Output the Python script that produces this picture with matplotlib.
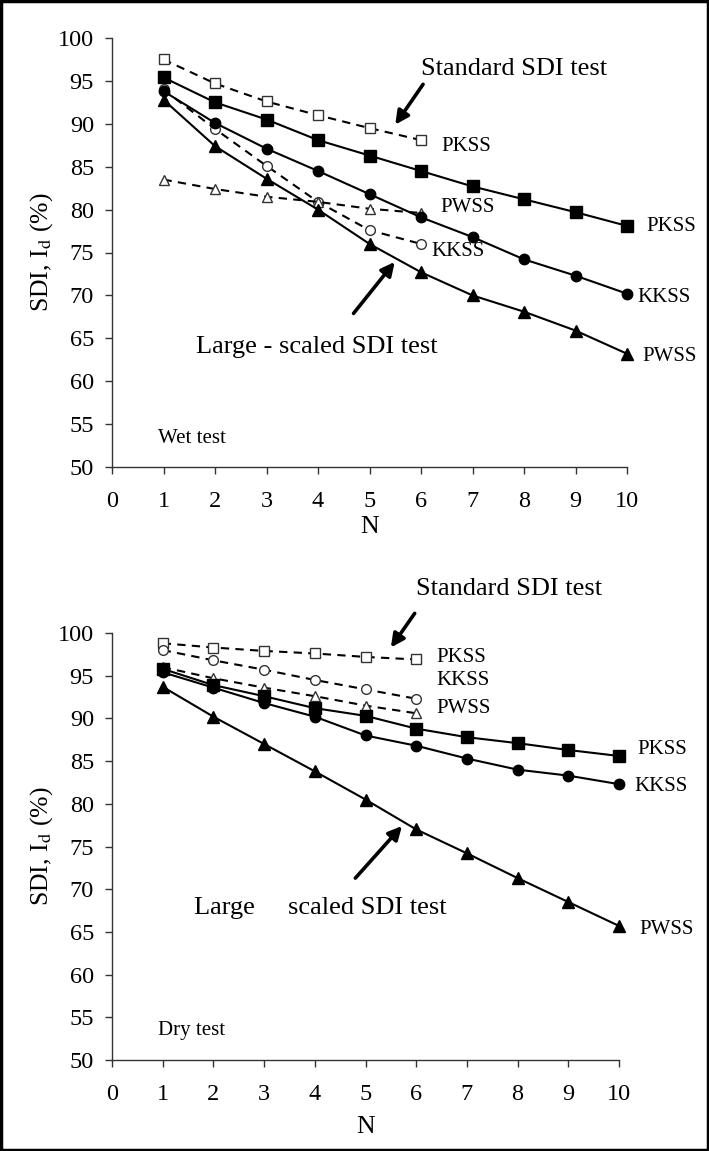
import matplotlib
matplotlib.use("Agg")
import matplotlib.pyplot as plt
from matplotlib.patches import Rectangle

plt.rcParams['font.family'] = ['Liberation Serif', 'DejaVu Serif']
plt.rcParams['mathtext.fontset'] = 'stix'

N_large = [1, 2, 3, 4, 5, 6, 7, 8, 9, 10]
N_std = [1, 2, 3, 4, 5, 6]

# Wet test
wet_large_pkss = [95.4, 92.5, 90.5, 88.1, 86.3, 84.5, 82.7, 81.2, 79.7, 78.1]
wet_large_kkss = [93.8, 90.1, 87.1, 84.5, 81.8, 79.1, 76.8, 74.2, 72.3, 70.2]
wet_large_pwss = [92.8, 87.4, 83.6, 80.0, 76.0, 72.7, 70.0, 68.1, 65.9, 63.2]
wet_std_pkss = [97.5, 94.7, 92.6, 91.0, 89.5, 88.1]
wet_std_kkss = [94.0, 89.4, 85.1, 80.9, 77.6, 76.0]
wet_std_pwss = [83.5, 82.4, 81.5, 80.9, 80.1, 79.6]

# Dry test
dry_large_pkss = [95.8, 93.9, 92.6, 91.2, 90.3, 88.8, 87.8, 87.1, 86.3, 85.6]
dry_large_kkss = [95.4, 93.6, 91.8, 90.2, 88.0, 86.8, 85.3, 84.0, 83.3, 82.3]
dry_large_pwss = [93.7, 90.2, 87.0, 83.8, 80.5, 77.0, 74.2, 71.3, 68.5, 65.7]
dry_std_pkss = [98.8, 98.3, 97.9, 97.6, 97.2, 96.9]
dry_std_kkss = [98.0, 96.8, 95.7, 94.5, 93.4, 92.3]
dry_std_pwss = [96.0, 94.7, 93.6, 92.6, 91.5, 90.6]

y_ticks = [50, 55, 60, 65, 70, 75, 80, 85, 90, 95, 100]
x_ticks = [0, 1, 2, 3, 4, 5, 6, 7, 8, 9, 10]

W, H = 709, 1151
fig = plt.figure(figsize=(W / 100, H / 100), dpi=100)

ax1 = fig.add_axes([112 / W, 1 - 467 / H, 515 / W, 429 / H])
ax2 = fig.add_axes([112 / W, 1 - 1060 / H, 507 / W, 427 / H])

FS_TICK = 17.5
FS_LAB = 18.5
FS_ANN = 19
FS_SER = 15


def style(ax, xlabelpad):
    ax.set_xlim(0, 10)
    ax.set_ylim(50, 100)
    ax.set_xticks(x_ticks)
    ax.set_yticks(y_ticks)
    for s in ['top', 'right']:
        ax.spines[s].set_visible(False)
    for s in ['left', 'bottom']:
        ax.spines[s].set_color('#333333')
        ax.spines[s].set_linewidth(1.0)
    ax.tick_params(axis='both', direction='out', length=5, width=1.0,
                   color='#333333', labelsize=FS_TICK)
    ax.tick_params(axis='x', pad=12)
    ax.tick_params(axis='y', pad=8)
    ax.set_xlabel('N', fontsize=FS_LAB, labelpad=xlabelpad)
    ax.set_ylabel(r'SDI, I$_{\mathrm{d}}$ (%)', fontsize=FS_LAB, labelpad=2)


def plot_large(ax, pk, kk, pw):
    ax.plot(N_large, pk, '-', color='black', lw=1.5, marker='s', ms=8,
            mfc='black', mec='black', clip_on=False, zorder=4)
    ax.plot(N_large, kk, '-', color='black', lw=1.5, marker='o', ms=7.5,
            mfc='black', mec='black', clip_on=False, zorder=4)
    ax.plot(N_large, pw, '-', color='black', lw=1.5, marker='^', ms=8.5,
            mfc='black', mec='black', clip_on=False, zorder=4)


def plot_std(ax, pk, kk, pw):
    ax.plot(N_std, pk, '--', color='black', lw=1.5, dashes=(4, 3), marker='s',
            ms=7, mfc='white', mec='#333333', mew=1.0, clip_on=False, zorder=3)
    ax.plot(N_std, kk, '--', color='black', lw=1.5, dashes=(4, 3), marker='o',
            ms=7, mfc='white', mec='#333333', mew=1.0, clip_on=False, zorder=3)
    ax.plot(N_std, pw, '--', color='black', lw=1.5, dashes=(4, 3), marker='^',
            ms=7, mfc='white', mec='#333333', mew=1.0, clip_on=False, zorder=3)


def arrow(ax, tail, head):
    ax.annotate('', xy=head, xytext=tail, annotation_clip=False,
                arrowprops=dict(arrowstyle='-|>', lw=2.6, color='black',
                                mutation_scale=20, shrinkA=0, shrinkB=0))


style(ax1, 3)
plot_std(ax1, wet_std_pkss, wet_std_kkss, wet_std_pwss)
plot_large(ax1, wet_large_pkss, wet_large_kkss, wet_large_pwss)

ax1.text(6.0, 96.4, 'Standard SDI test', fontsize=FS_ANN, ha='left', va='center')
arrow(ax1, (6.04, 94.6), (5.5, 89.9))
ax1.text(3.97, 64.0, 'Large - scaled SDI test', fontsize=FS_ANN, ha='center', va='center')
arrow(ax1, (4.69, 67.9), (5.49, 73.9))
ax1.text(0.9, 53.3, 'Wet test', fontsize=FS_SER, ha='left', va='center')
ax1.text(6.4, 87.3, 'PKSS', fontsize=FS_SER, ha='left', va='center')
ax1.text(6.37, 80.2, 'PWSS', fontsize=FS_SER, ha='left', va='center')
ax1.text(6.2, 75.1, 'KKSS', fontsize=FS_SER, ha='left', va='center')
ax1.text(10.38, 78.0, 'PKSS', fontsize=FS_SER, ha='left', va='center', clip_on=False)
ax1.text(10.2, 69.7, 'KKSS', fontsize=FS_SER, ha='left', va='center', clip_on=False)
ax1.text(10.3, 62.9, 'PWSS', fontsize=FS_SER, ha='left', va='center', clip_on=False)

style(ax2, 8)
plot_std(ax2, dry_std_pkss, dry_std_kkss, dry_std_pwss)
plot_large(ax2, dry_large_pkss, dry_large_kkss, dry_large_pwss)

ax2.text(6.0, 105.1, 'Standard SDI test', fontsize=FS_ANN, ha='left', va='center')
arrow(ax2, (5.97, 102.3), (5.5, 98.3))
ax2.text(6.4, 97.1, 'PKSS', fontsize=FS_SER, ha='left', va='center')
ax2.text(6.4, 94.4, 'KKSS', fontsize=FS_SER, ha='left', va='center')
ax2.text(6.4, 91.2, 'PWSS', fontsize=FS_SER, ha='left', va='center')
ax2.text(10.37, 86.3, 'PKSS', fontsize=FS_SER, ha='left', va='center', clip_on=False)
ax2.text(10.3, 82.0, 'KKSS', fontsize=FS_SER, ha='left', va='center', clip_on=False)
ax2.text(10.4, 65.3, 'PWSS', fontsize=FS_SER, ha='left', va='center', clip_on=False)
arrow(ax2, (4.8, 71.3), (5.72, 77.4))
ax2.text(4.1, 67.8, 'Large     scaled SDI test', fontsize=FS_ANN, ha='center', va='center')
ax2.text(0.9, 53.5, 'Dry test', fontsize=FS_SER, ha='left', va='center')

fig.patches.append(Rectangle((0.002, 0.001), 0.996, 0.998, transform=fig.transFigure,
                             fill=False, lw=2.5, edgecolor='black'))

fig.savefig('out.png', dpi=100)
